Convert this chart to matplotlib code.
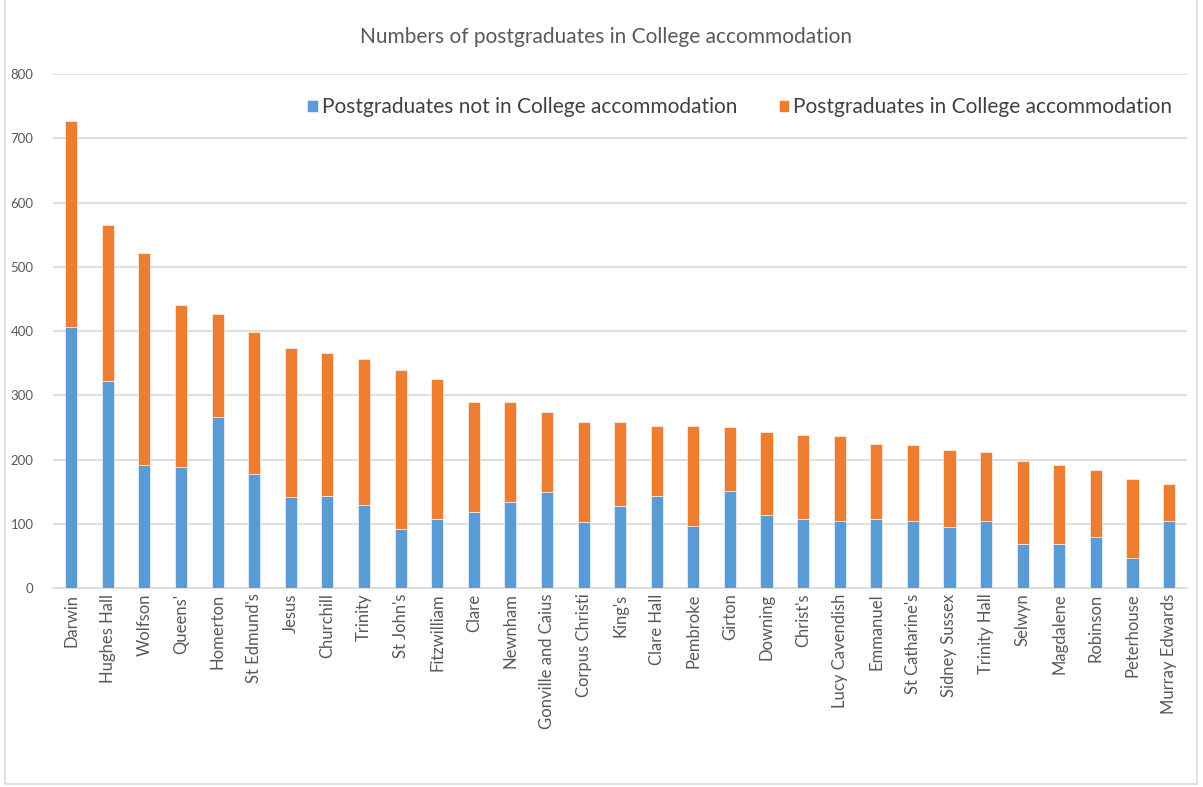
import matplotlib.pyplot as plt
from matplotlib.patches import Rectangle

plt.rcParams['font.family'] = ['Lato', 'DejaVu Sans']

colleges = ['Darwin', 'Hughes Hall', 'Wolfson', "Queens'", 'Homerton', "St Edmund's", 'Jesus',
            'Churchill', 'Trinity', "St John's", 'Fitzwilliam', 'Clare', 'Newnham', 'Gonville and Caius',
            'Corpus Christi', "King's", 'Clare Hall', 'Pembroke', 'Girton', 'Downing', "Christ's",
            'Lucy Cavendish', 'Emmanuel', "St Catharine's", 'Sidney Sussex', 'Trinity Hall', 'Selwyn',
            'Magdalene', 'Robinson', 'Peterhouse', 'Murray Edwards']
# postgraduates not in college accommodation (blue, bottom)
not_in_college = [407, 322, 192, 189, 266, 177, 141, 143, 130, 92, 108, 118, 134, 149,
                  103, 128, 144, 97, 151, 113, 108, 105, 108, 105, 95, 105, 69, 69, 80, 47, 105]
# total height of each bar
totals = [727, 565, 522, 440, 427, 399, 374, 366, 356, 340, 325, 289, 289, 274,
          259, 259, 253, 253, 251, 243, 238, 236, 225, 223, 215, 212, 197, 192, 184, 169, 162]
in_college = [t - n for t, n in zip(totals, not_in_college)]

BLUE = '#5B9BD5'
ORANGE = '#ED7D31'
TEXT = '#595959'
GRID = '#D9D9D9'

fig = plt.figure(figsize=(12.03, 7.87), dpi=100)
ax = fig.add_axes([0.044, 0.2528, 0.943, 0.653])

x = range(len(colleges))
ax.bar(x, not_in_college, width=0.33, color=BLUE, edgecolor='white', linewidth=0.4,
       label='Postgraduates not in College accommodation', zorder=3)
ax.bar(x, in_college, width=0.33, bottom=not_in_college, color=ORANGE, edgecolor='white',
       linewidth=0.4, label='Postgraduates in College accommodation', zorder=3)

ax.set_xlim(-0.5, len(colleges) - 0.5)
ax.set_ylim(0, 800)
ax.set_yticks(range(0, 801, 100))
ax.yaxis.grid(True, color=GRID, linewidth=1.2, zorder=0)
ax.set_xticks(list(x))
ax.set_xticklabels(colleges, rotation=90, fontsize=12, color=TEXT)
ax.tick_params(axis='y', labelsize=9.5, labelcolor=TEXT, length=0, pad=14)
ax.tick_params(axis='x', length=0, pad=4)
for side in ['top', 'right', 'left']:
    ax.spines[side].set_visible(False)
ax.spines['bottom'].set_color(GRID)
ax.spines['bottom'].set_linewidth(1.2)

fig.text(0.504, 0.953, 'Numbers of postgraduates in College accommodation', ha='center', va='center',
         fontsize=15, color=TEXT)
fig.legend(loc='center', bbox_to_anchor=(0.615, 0.864), ncol=2, frameon=False, fontsize=15,
           handlelength=0.5, handleheight=0.5, handletextpad=0.2, columnspacing=2.0,
           labelcolor='#404040')

# light border round the whole chart
fig.patches.append(Rectangle((0.004, 0.004), 0.991, 1.2, transform=fig.transFigure, fill=False,
                             edgecolor=GRID, linewidth=1.2))

fig.savefig('out.png', dpi=100)
